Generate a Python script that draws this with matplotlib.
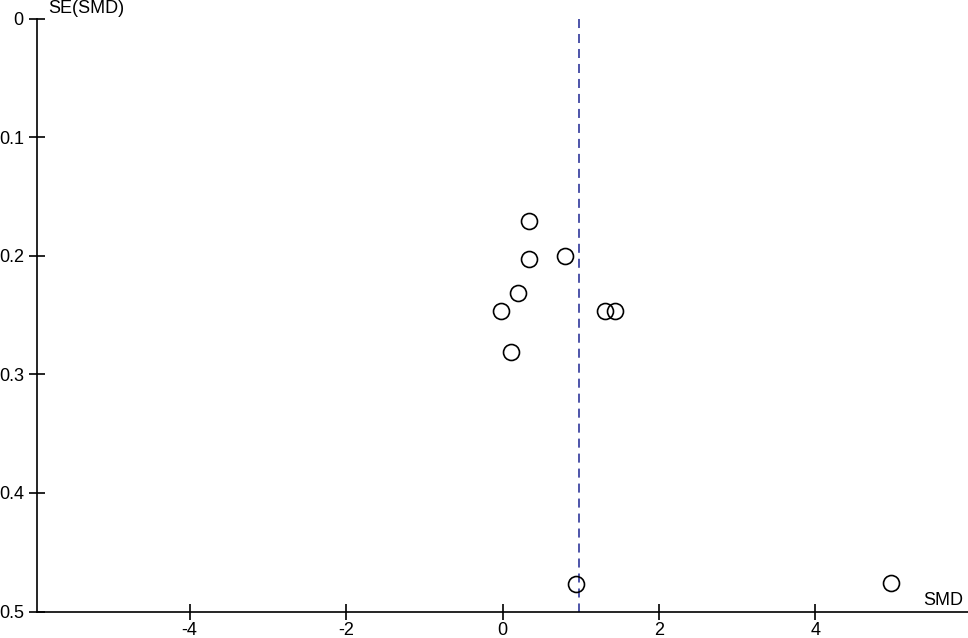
import numpy as np
import matplotlib.pyplot as plt

# study effect sizes and standard errors
smd = [0.345, 0.345, 0.793, 0.192, -0.02, 1.313, 1.44, 0.107, 0.94, 4.96]
se_smd = [0.171, 0.203, 0.200, 0.231, 0.247, 0.247, 0.247, 0.281, 0.477, 0.476]
pooled_smd = 0.98
x_ticks = [-4, -2, 0, 2, 4]
y_ticks = [0, 0.1, 0.2, 0.3, 0.4, 0.5]
y_ticklabels = ["0", "0.1", "0.2", "0.3", "0.4", "0.5"]

plt.rcParams['font.family'] = ['Liberation Sans', 'DejaVu Sans']

fig = plt.figure(figsize=(9.68, 6.38), dpi=100)
ax = fig.add_axes([37 / 968, 1 - 611.5 / 638, 1 - 37 / 968, (611.5 - 18.6) / 638])

ax.plot(smd, se_smd, linestyle='none', marker='o', markersize=11.5,
        markerfacecolor='none', markeredgecolor='black', markeredgewidth=1.2,
        clip_on=False, zorder=3)
ax.plot([pooled_smd, pooled_smd], [0, 0.5], linestyle=(0, (5, 3.3)),
        color='#3f46a2', linewidth=1.3, zorder=2)

ax.set_xlim(-5.95, 5.95)
ax.set_ylim(0.5, 0)
ax.set_xticks(x_ticks)
ax.set_xticklabels([str(t) for t in x_ticks])
ax.set_yticks(y_ticks)
ax.set_yticklabels(y_ticklabels)

for side in ['top', 'right']:
    ax.spines[side].set_visible(False)
for side in ['left', 'bottom']:
    ax.spines[side].set_linewidth(1.2)

ax.tick_params(direction='inout', length=11, width=1.2, labelsize=13)
ax.tick_params(axis='x', pad=2)
ax.tick_params(axis='y', pad=4)

ax.text(0.012, -0.0047, "SE(SMD)", fontsize=13, ha='left', va='baseline',
        transform=ax.get_yaxis_transform(), clip_on=False)
ax.text(5.89, 0.4944, "SMD", fontsize=13, ha='right', va='baseline', clip_on=False)

fig.savefig("out.png", dpi=100)
